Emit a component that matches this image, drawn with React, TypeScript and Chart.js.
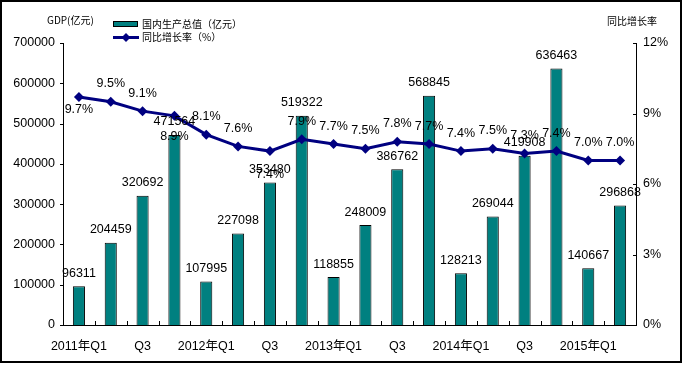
import React, { useEffect, useRef } from "react";
import { Chart, registerables } from "chart.js";

Chart.register(...registerables);

const categories = [
  "2011年Q1", "Q2", "Q3", "Q4",
  "2012年Q1", "Q2", "Q3", "Q4",
  "2013年Q1", "Q2", "Q3", "Q4",
  "2014年Q1", "Q2", "Q3", "Q4",
  "2015年Q1", "Q2",
];
const gdpValues = [
  96311, 204459, 320692, 471564,
  107995, 227098, 353480, 519322,
  118855, 248009, 386762, 568845,
  128213, 269044, 419908, 636463,
  140667, 296868,
];
const growthValues = [
  9.7, 9.5, 9.1, 8.9,
  8.1, 7.6, 7.4, 7.9,
  7.7, 7.5, 7.8, 7.7,
  7.4, 7.5, 7.3, 7.4,
  7.0, 7.0,
];
const gdpAxisMax = 700000;
const gdpAxisStep = 100000;
const growthAxisMax = 12;
const growthAxisStep = 3;

const gdpLabel = "国内生产总值（亿元）";
const growthLabel = "同比增长率（%）";
const leftAxisTitle = "GDP(亿元)";
const rightAxisTitle = "同比增长率";

// label placement style (index -> vertical offset of the label centre, px)
const growthLabelBelow: Record<number, number> = { 0: 12, 3: 21, 6: 23 };

const TEAL = "#008080";
const NAVY = "#000080";
const NUM_FONT = "12.5px 'Liberation Sans', Arial, sans-serif";
const CJK_FONT = "10px 'Noto Sans CJK SC', sans-serif";

const decorPlugin = {
  id: "decor",
  beforeDraw(chart: any) {
    const ctx = chart.ctx;
    ctx.save();
    ctx.fillStyle = "#ffffff";
    ctx.fillRect(0, 0, chart.width, chart.height);
    ctx.restore();
  },
  afterDatasetsDraw(chart: any) {
    const ctx = chart.ctx;
    const area = chart.chartArea;
    ctx.save();
    ctx.strokeStyle = "#000";
    ctx.lineWidth = 1;
    const n = categories.length;
    const w = (area.right - area.left) / n;
    for (let i = 1; i < n; i++) {
      const x = Math.round(area.left + i * w) + 0.5;
      ctx.beginPath();
      ctx.moveTo(x, area.bottom);
      ctx.lineTo(x, area.bottom - 4);
      ctx.stroke();
    }
    const ys = chart.scales.y;
    for (let v = 0; v <= gdpAxisMax; v += gdpAxisStep) {
      const y = Math.round(ys.getPixelForValue(v)) + 0.5;
      ctx.beginPath();
      ctx.moveTo(area.left - 3, y);
      ctx.lineTo(area.left, y);
      ctx.stroke();
    }
    const y1 = chart.scales.y1;
    for (let v = 0; v <= growthAxisMax; v += growthAxisStep) {
      const y = Math.round(y1.getPixelForValue(v)) + 0.5;
      ctx.beginPath();
      ctx.moveTo(area.right - 3, y);
      ctx.lineTo(area.right, y);
      ctx.stroke();
    }

    ctx.fillStyle = "#000";
    ctx.font = NUM_FONT;
    ctx.textAlign = "center";
    ctx.textBaseline = "middle";
    const barMeta = chart.getDatasetMeta(0);
    barMeta.data.forEach((el: any, i: number) => {
      ctx.fillText(String(gdpValues[i]), el.x, el.y - 13);
    });
    const lineMeta = chart.getDatasetMeta(1);
    lineMeta.data.forEach((el: any, i: number) => {
      const dy = growthLabelBelow[i] !== undefined ? growthLabelBelow[i] : -18;
      ctx.fillText(growthValues[i].toFixed(1) + "%", el.x, el.y + dy);
    });
    ctx.restore();
  },
  afterDraw(chart: any) {
    const ctx = chart.ctx;
    ctx.save();
    ctx.strokeStyle = "#000";
    ctx.lineWidth = 2;
    ctx.strokeRect(1, 1, 680, 361);

    ctx.fillStyle = "#000";
    ctx.font = CJK_FONT;
    ctx.textBaseline = "middle";
    ctx.textAlign = "left";
    ctx.fillText(leftAxisTitle, 47, 20);
    ctx.fillText(rightAxisTitle, 607, 21);

    ctx.fillStyle = TEAL;
    ctx.fillRect(113.5, 21.5, 24, 5);
    ctx.strokeStyle = "#000";
    ctx.lineWidth = 1;
    ctx.strokeRect(113.5, 21.5, 24, 5);
    ctx.fillStyle = "#000";
    ctx.fillText(gdpLabel, 142, 24);

    ctx.strokeStyle = NAVY;
    ctx.lineWidth = 3;
    ctx.beginPath();
    ctx.moveTo(113, 37.5);
    ctx.lineTo(139, 37.5);
    ctx.stroke();
    ctx.fillStyle = NAVY;
    ctx.beginPath();
    ctx.moveTo(126, 33);
    ctx.lineTo(130.5, 37.5);
    ctx.lineTo(126, 42);
    ctx.lineTo(121.5, 37.5);
    ctx.closePath();
    ctx.fill();
    ctx.fillStyle = "#000";
    ctx.fillText(growthLabel, 142, 37.5);
    ctx.restore();
  },
};

export default function App() {
  const ref = useRef<HTMLCanvasElement | null>(null);
  useEffect(() => {
    if (!ref.current) return;
    const chart = new Chart(ref.current, {
      type: "bar",
      data: {
        labels: categories,
        datasets: [
          {
            type: "bar",
            label: gdpLabel,
            data: gdpValues,
            backgroundColor: TEAL,
            borderColor: "#000",
            borderWidth: 1,
            barPercentage: 0.38,
            categoryPercentage: 1,
            yAxisID: "y",
            order: 2,
          } as any,
          {
            type: "line",
            label: growthLabel,
            data: growthValues,
            borderColor: NAVY,
            backgroundColor: NAVY,
            borderWidth: 3,
            pointStyle: "rectRot",
            pointRadius: 5,
            pointBackgroundColor: NAVY,
            pointBorderColor: NAVY,
            pointBorderWidth: 0,
            tension: 0,
            yAxisID: "y1",
            order: 1,
          } as any,
        ],
      },
      options: {
        responsive: false,
        animation: false,
        layout: { padding: { left: 0, right: 0, top: 43, bottom: 0 } },
        plugins: {
          legend: { display: false },
          tooltip: { enabled: false },
        },
        scales: {
          x: {
            offset: true,
            grid: { display: false, drawOnChartArea: false, drawTicks: false },
            border: { display: true, color: "#000", width: 1 },
            ticks: {
              autoSkip: false,
              maxRotation: 0,
              minRotation: 0,
              padding: 14,
              color: "#000",
              font: { family: "'Liberation Sans', 'Noto Sans CJK SC', sans-serif", size: 12.5 },
              callback: (_v: any, i: number) => (i % 2 === 0 ? categories[i] : ""),
            },
            afterFit: (s: any) => {
              s.height = 40;
            },
          },
          y: {
            position: "left",
            min: 0,
            max: gdpAxisMax,
            grid: { display: false, drawTicks: false },
            border: { display: true, color: "#000", dash: [3, 2], width: 1 },
            ticks: {
              stepSize: gdpAxisStep,
              padding: 8,
              color: "#000",
              font: { family: "'Liberation Sans', Arial, sans-serif", size: 12.5 },
              callback: (v: any) => String(v),
            },
            afterFit: (s: any) => {
              s.width = 63;
            },
          },
          y1: {
            position: "right",
            min: 0,
            max: growthAxisMax,
            grid: { display: false, drawTicks: false },
            border: { display: true, color: "#000", dash: [3, 2], width: 1 },
            ticks: {
              stepSize: growthAxisStep,
              padding: 7,
              color: "#000",
              font: { family: "'Liberation Sans', Arial, sans-serif", size: 12.5 },
              callback: (v: any) => v + "%",
            },
            afterFit: (s: any) => {
              s.width = 47;
            },
          },
        },
      } as any,
      plugins: [decorPlugin],
    });
    return () => chart.destroy();
  }, []);
  return (
    <div style={{ position: "absolute", left: 0, top: 0, width: 683, height: 365 }}>
      <canvas ref={ref} width={683} height={365} style={{ width: 683, height: 365, display: "block" }} />
    </div>
  );
}
